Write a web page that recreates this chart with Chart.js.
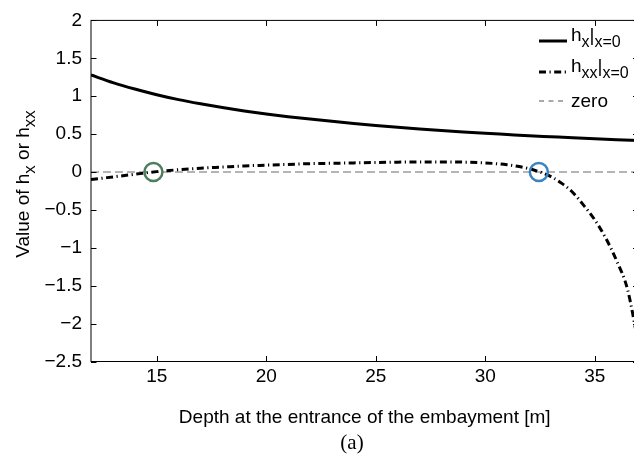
<!DOCTYPE html>
<html>
<head>
<meta charset="utf-8">
<script src="https://cdn.jsdelivr.net/npm/chart.js@4/dist/chart.umd.min.js"></script>
<style>
  html, body { margin: 0; padding: 0; background: #fff; overflow: hidden; width: 634px; height: 455px; }
  #wrap { position: relative; width: 634px; height: 455px; overflow: hidden; }
  #chart { position: absolute; left: 0; top: 0; }
</style>
</head>
<body>
<div id="wrap"><canvas id="chart" width="650" height="455"></canvas></div>
<script>
// --- données ---
const depthHx = [12, 13, 14, 15, 16, 17, 18, 19, 20, 21, 22, 23, 24, 25, 26, 27, 28, 29, 30, 31, 32, 33, 34, 35, 36, 37];
const valuesHx = [1.28, 1.18, 1.095, 1.02, 0.955, 0.90, 0.85, 0.805, 0.765, 0.73, 0.698, 0.668, 0.64, 0.614, 0.59, 0.568, 0.548, 0.529, 0.511, 0.495, 0.479, 0.465, 0.451, 0.438, 0.426, 0.415];

const depthHxx = [12, 13, 14, 15, 16, 17, 18, 19, 20, 21, 22, 23, 24, 25, 26, 27, 28, 29, 30, 31, 32, 32.5, 33, 33.5, 34, 34.5, 35, 35.5, 36, 36.5, 37];
const valuesHxx = [-0.10, -0.065, -0.03, 0.005, 0.03, 0.05, 0.065, 0.08, 0.09, 0.10, 0.11, 0.115, 0.12, 0.125, 0.13, 0.133, 0.133, 0.13, 0.12, 0.095, 0.045, 0, -0.06, -0.15, -0.27, -0.44, -0.63, -0.87, -1.17, -1.55, -2.28];

const zeroDepth = [12, 37];
const zeroValues = [0, 0];

const rootDepths = [14.85, 32.45];
const rootValues = [0, 0];
const rootColors = ['#4f7d5f', '#3a84c2'];

const xTicks = [15, 20, 25, 30, 35];
const yTicks = [-2.5, -2, -1.5, -1, -0.5, 0, 0.5, 1, 1.5, 2];

const FONT = '"Liberation Sans", Arial, Helvetica, sans-serif';
const toPoints = (xs, ys) => xs.map((x, i) => ({ x, y: ys[i] }));
const minus = (v) => String(v).replace('-', '\u2212');

const DASH_HXX = [7, 3.5, 1.2, 3.5];
const DASH_ZERO = [8, 4];
const DASH_ZERO_LEGEND = [5, 4.5];

// texte avec indices : [{t, sub}]
function drawRuns(ctx, runs, x, y, size, subSize) {
  let cx = x;
  runs.forEach(r => {
    ctx.font = `${r.sub ? subSize : size}px ${FONT}`;
    ctx.fillText(r.t, cx, r.sub ? y + size * 0.32 : y);
    cx += ctx.measureText(r.t).width;
  });
}
function runsWidth(ctx, runs, size, subSize) {
  return runs.reduce((w, r) => {
    ctx.font = `${r.sub ? subSize : size}px ${FONT}`;
    return w + ctx.measureText(r.t).width;
  }, 0);
}

// cadre, graduations internes, légende, label y, "(a)"
const decorations = {
  id: 'decorations',
  afterDatasetsDraw(chart) {
    const { ctx, chartArea: a, scales } = chart;
    ctx.save();
    ctx.strokeStyle = '#000';
    ctx.lineWidth = 1;
    ctx.setLineDash([]);
    ctx.strokeRect(a.left, a.top, a.right - a.left, a.bottom - a.top);
    const tl = 5.5;
    ctx.beginPath();
    xTicks.forEach(v => {
      const px = Math.round(scales.x.getPixelForValue(v)) + 0.5;
      ctx.moveTo(px, a.bottom); ctx.lineTo(px, a.bottom - tl);
      ctx.moveTo(px, a.top); ctx.lineTo(px, a.top + tl);
    });
    yTicks.forEach(v => {
      const py = Math.round(scales.y.getPixelForValue(v)) + 0.5;
      ctx.moveTo(a.left, py); ctx.lineTo(a.left + tl, py);
      ctx.moveTo(a.right, py); ctx.lineTo(a.right - tl, py);
    });
    ctx.stroke();

    // légende (position fixe dans la fenêtre)
    const lx0 = 539, lx1 = 567, tx = 571;
    const entries = [
      { y: 41, dash: [], width: 3, color: '#000', runs: [{ t: 'h' }, { t: 'x', sub: true }, { t: '|' }, { t: 'x=0', sub: true }] },
      { y: 72, dash: DASH_HXX, width: 3, color: '#000', runs: [{ t: 'h' }, { t: 'xx', sub: true }, { t: '|' }, { t: 'x=0', sub: true }] },
      { y: 101, dash: DASH_ZERO_LEGEND, width: 1, color: '#555', runs: [{ t: 'zero' }] }
    ];
    entries.forEach(e => {
      ctx.beginPath();
      ctx.setLineDash(e.dash);
      ctx.lineWidth = e.width;
      ctx.strokeStyle = e.color;
      ctx.moveTo(lx0, e.y); ctx.lineTo(lx1, e.y);
      ctx.stroke();
    });
    ctx.setLineDash([]);
    ctx.fillStyle = '#000';
    ctx.textBaseline = 'alphabetic';
    ctx.textAlign = 'left';
    drawRuns(ctx, entries[0].runs, tx, 41, 19, 16);
    drawRuns(ctx, entries[1].runs, tx, 72, 19, 16);
    drawRuns(ctx, entries[2].runs, tx, 107, 19, 16);

    // label y
    const yRuns = [{ t: 'Value of h' }, { t: 'x', sub: true }, { t: ' or h' }, { t: 'xx', sub: true }];
    const w = runsWidth(ctx, yRuns, 19, 17);
    ctx.translate(29, 184);
    ctx.rotate(-Math.PI / 2);
    drawRuns(ctx, yRuns, -w / 2, 0, 19, 17);
    ctx.restore();

    // "(a)"
    ctx.save();
    ctx.fillStyle = '#000';
    ctx.font = '21px "Liberation Serif", "Times New Roman", serif';
    ctx.textAlign = 'center';
    ctx.textBaseline = 'middle';
    ctx.fillText('(a)', 352, 443);
    ctx.restore();
  }
};

new Chart(document.getElementById('chart'), {
  type: 'scatter',
  data: {
    datasets: [
      {
        label: 'roots', data: toPoints(rootDepths, rootValues), showLine: false, order: 0,
        pointRadius: 9, pointHoverRadius: 9, pointBorderWidth: 2.5,
        pointBorderColor: rootColors, pointBackgroundColor: 'rgba(0,0,0,0)'
      },
      {
        label: 'hxx', data: toPoints(depthHxx, valuesHxx), showLine: true, order: 1,
        borderColor: '#000', borderWidth: 3, borderDash: DASH_HXX, pointRadius: 0,
        cubicInterpolationMode: 'monotone'
      },
      {
        label: 'hx', data: toPoints(depthHx, valuesHx), showLine: true, order: 2,
        borderColor: '#000', borderWidth: 3, pointRadius: 0,
        cubicInterpolationMode: 'monotone'
      },
      {
        label: 'zero', data: toPoints(zeroDepth, zeroValues), showLine: true, order: 3,
        borderColor: '#6a6a6a', borderWidth: 1, borderDash: DASH_ZERO, pointRadius: 0
      }
    ]
  },
  options: {
    responsive: false,
    animation: false,
    events: [],
    layout: { padding: { top: 16.5, right: 2, bottom: 0, left: 0 } },
    plugins: { legend: { display: false }, tooltip: { enabled: false } },
    scales: {
      x: {
        type: 'linear', min: 12, max: 37,
        afterBuildTicks: (s) => { s.ticks = xTicks.map(v => ({ value: v })); },
        afterFit: (s) => { s.height = 93.5; },
        grid: { display: false, drawTicks: false },
        border: { display: false },
        ticks: { padding: 4, color: '#000', font: { family: FONT, size: 19 }, maxRotation: 0 },
        title: {
          display: true, text: 'Depth at the entrance of the embayment [m]', color: '#000',
          font: { family: FONT, size: 19 }, padding: { top: 0, bottom: 26 }
        }
      },
      y: {
        type: 'linear', min: -2.5, max: 2,
        afterBuildTicks: (s) => { s.ticks = yTicks.map(v => ({ value: v })); },
        afterFit: (s) => { s.width = 91; },
        grid: { display: false, drawTicks: false },
        border: { display: false },
        ticks: { padding: 9, color: '#000', font: { family: FONT, size: 19 }, callback: minus }
      }
    }
  },
  plugins: [decorations]
});
</script>
</body>
</html>
